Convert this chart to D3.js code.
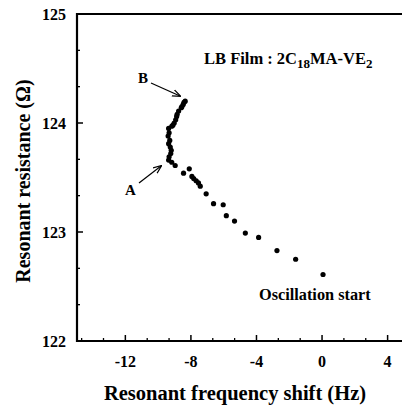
<!DOCTYPE html>
<html>
<head>
<meta charset="utf-8">
<script src="https://cdn.jsdelivr.net/npm/d3@7"></script>
<style>
  body { margin: 0; background: #fff; }
  svg text { font-family: "Liberation Serif", "Times New Roman", serif; font-weight: bold; fill: #000; }
</style>
</head>
<body>
<svg id="chart" width="402" height="405"></svg>
<script>
// frequency shift (Hz) and resistance (ohm)
const shift = [-8.35, -8.42, -8.47, -8.55, -8.59, -8.75, -8.84, -8.87, -8.93, -9.02, -9.10, -9.17, -9.36, -9.33, -9.39,
  -9.29, -9.36, -9.26, -9.20, -9.23, -9.33, -9.36, -9.17, -8.96, -8.45, -8.10, -7.94, -7.83, -7.68, -7.54,
  -7.43, -7.07, -6.62, -6.03, -5.84, -5.34, -4.68, -3.87, -2.75, -1.61, 0.06];
const resistance = [124.20, 124.19, 124.17, 124.15, 124.14, 124.11, 124.08, 124.06, 124.03, 124.00, 123.98, 123.97, 123.95, 123.91, 123.88,
  123.84, 123.81, 123.78, 123.75, 123.72, 123.69, 123.66, 123.64, 123.61, 123.54, 123.58, 123.51, 123.49, 123.47, 123.45,
  123.42, 123.35, 123.26, 123.25, 123.15, 123.10, 122.99, 122.95, 122.83, 122.75, 122.61];
const xTicks = [-12, -8, -4, 0, 4];
const yTicks = [122, 123, 124, 125];

const svg = d3.select("#chart");
const x = d3.scaleLinear().domain([-14.95, 5]).range([77, 404]);
const y = d3.scaleLinear().domain([122, 125]).range([341, 14]);

// minor ticks (inward)
const xMinor = d3.range(-40, 16).map(i => i * 4 / 3).filter(v => v > -14.9 && v < 5 && !xTicks.includes(Math.round(v * 1000) / 1000));
const yMinor = d3.range(122, 125.01, 1 / 3).filter(v => Math.abs(v - Math.round(v)) > 0.01);

svg.append("g").selectAll("line.xm").data(xMinor).enter().append("line")
  .attr("x1", d => x(d)).attr("x2", d => x(d)).attr("y1", 341).attr("y2", 338)
  .attr("stroke", "#000").attr("stroke-width", 1.3);
svg.append("g").selectAll("line.xM").data(xTicks).enter().append("line")
  .attr("x1", d => x(d)).attr("x2", d => x(d)).attr("y1", 341).attr("y2", 335)
  .attr("stroke", "#000").attr("stroke-width", 1.5);
svg.append("g").selectAll("line.ym").data(yMinor).enter().append("line")
  .attr("x1", 77).attr("x2", 80).attr("y1", d => y(d)).attr("y2", d => y(d))
  .attr("stroke", "#000").attr("stroke-width", 1.3);
svg.append("g").selectAll("line.yM").data(yTicks).enter().append("line")
  .attr("x1", 77).attr("x2", 83).attr("y1", d => y(d)).attr("y2", d => y(d))
  .attr("stroke", "#000").attr("stroke-width", 1.5);

// frame
svg.append("path")
  .attr("d", `M402,${y(125)}H77V${y(122)}H402`)
  .attr("fill", "none").attr("stroke", "#000").attr("stroke-width", 2.2);

// tick labels
svg.append("g").selectAll("text").data(xTicks).enter().append("text")
  .attr("x", d => x(d)).attr("y", 367).attr("text-anchor", "middle")
  .attr("font-size", 16).text(d => d);
svg.append("g").selectAll("text").data(yTicks).enter().append("text")
  .attr("x", 66).attr("y", d => y(d) + 5.5).attr("text-anchor", "end")
  .attr("font-size", 16).text(d => d);

// axis titles
svg.append("text").attr("x", 235).attr("y", 400).attr("text-anchor", "middle")
  .attr("font-size", 20.5).text("Resonant frequency shift (Hz)");
svg.append("text").attr("transform", "translate(30,181) rotate(-90)").attr("text-anchor", "middle")
  .attr("font-size", 20).text("Resonant resistance (Ω)");

// points
svg.append("g").selectAll("circle").data(shift).enter().append("circle")
  .attr("cx", d => x(d)).attr("cy", (d, i) => y(resistance[i])).attr("r", 2.6).attr("fill", "#000");

// annotations
const title = svg.append("text").attr("x", 204).attr("y", 64).attr("font-size", 16.5);
title.append("tspan").text("LB Film : 2C");
title.append("tspan").attr("font-size", 13).attr("dy", 4).text("18");
title.append("tspan").attr("dy", -4).text("MA-VE");
title.append("tspan").attr("font-size", 13).attr("dy", 4).text("2");

svg.append("text").attr("x", 259).attr("y", 300).attr("font-size", 16.3).text("Oscillation start");
svg.append("text").attr("x", 138).attr("y", 83).attr("font-size", 15).text("B");
svg.append("text").attr("x", 125).attr("y", 195).attr("font-size", 15).text("A");

svg.append("defs").append("marker").attr("id", "ah").attr("viewBox", "0 0 10 10")
  .attr("refX", 9).attr("refY", 5).attr("markerWidth", 7).attr("markerHeight", 7).attr("orient", "auto")
  .append("path").attr("d", "M0,1L10,5L0,9").attr("fill", "none").attr("stroke", "#000").attr("stroke-width", 1.5);
svg.append("line").attr("x1", 151).attr("y1", 83).attr("x2", 180).attr("y2", 96)
  .attr("stroke", "#000").attr("stroke-width", 1.2).attr("marker-end", "url(#ah)");
svg.append("line").attr("x1", 139).attr("y1", 183).attr("x2", 161).attr("y2", 166)
  .attr("stroke", "#000").attr("stroke-width", 1.2).attr("marker-end", "url(#ah)");
</script>
</body>
</html>
